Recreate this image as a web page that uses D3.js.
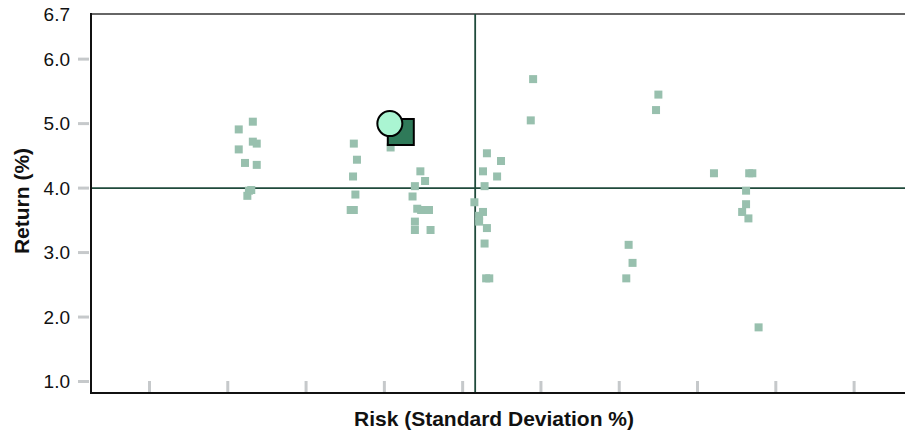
<!doctype html>
<html>
<head>
<script src="https://d3js.org/d3.v7.min.js"></script>
<style>
  body { margin: 0; background: #fff; }
  svg { display: block; font-family: "Liberation Sans", Arial, sans-serif; }
</style>
</head>
<body>
<svg width="905" height="434" id="chart"></svg>
<script>
// fund points (risk %, return %)
var riskValues = [
  2.14, 2.32, 2.14, 2.32, 2.37, 2.22, 2.37, 2.27, 2.25, 2.30,
  3.61, 3.65, 3.60, 3.63, 3.57, 3.61, 4.08,
  4.46, 4.52, 4.39, 4.36, 4.42, 4.47, 4.57, 4.39, 4.39, 4.59,
  5.31, 5.49, 5.26, 5.44, 5.28, 5.15, 5.26, 5.21, 5.21, 5.31, 5.28, 5.30, 5.34,
  5.90, 5.87,
  7.50, 7.47, 7.12, 7.17, 7.09,
  8.21, 8.66, 8.70, 8.62, 8.62, 8.57, 8.65, 8.78
];
var returnValues = [
  4.91, 5.03, 4.60, 4.72, 4.69, 4.39, 4.36, 3.96, 3.88, 3.97,
  4.69, 4.44, 4.18, 3.90, 3.66, 3.66, 4.63,
  4.26, 4.11, 4.03, 3.87, 3.68, 3.66, 3.66, 3.48, 3.35, 3.35,
  4.54, 4.42, 4.26, 4.18, 4.03, 3.78, 3.63, 3.57, 3.48, 3.38, 3.14, 2.60, 2.60,
  5.69, 5.05,
  5.45, 5.21, 3.12, 2.84, 2.60,
  4.23, 4.23, 4.23, 3.96, 3.75, 3.63, 3.53, 1.84
];
// highlighted portfolio and benchmark
var portfolio = { risk: 4.21, ret: 4.87 };
var benchmark = { risk: 4.07, ret: 5.00 };
// reference lines
var avgRisk = 5.16, avgReturn = 4.0;
var yTicks = [1, 2, 3, 4, 5, 6];
var yTop = 6.7;
var xTicks = [1, 2, 3, 4, 5, 6, 7, 8, 9, 10];

var svg = d3.select("#chart");
var pLeft = 91, pTop = 14, pRight = 905, pBottom = 393;

var x = d3.scaleLinear().domain([0.253, 10.65]).range([pLeft, pRight]);
var y = d3.scaleLinear().domain([0.822, yTop]).range([pBottom, pTop]);

// top frame line
svg.append("line")
  .attr("x1", pLeft).attr("x2", pRight)
  .attr("y1", pTop).attr("y2", pTop)
  .attr("stroke", "#333").attr("stroke-width", 1.5);

// y ticks
svg.selectAll(".ytick").data(yTicks).enter().append("line")
  .attr("x1", 78).attr("x2", 89)
  .attr("y1", function (d) { return y(d); })
  .attr("y2", function (d) { return y(d); })
  .attr("stroke", "#c6c9cb").attr("stroke-width", 3);

svg.selectAll(".ylab").data(yTicks.concat([yTop])).enter().append("text")
  .attr("x", 70)
  .attr("y", function (d) { return y(d); })
  .attr("dy", "0.36em")
  .attr("text-anchor", "end")
  .style("font-size", "19px")
  .style("fill", "#111")
  .text(function (d) { return d.toFixed(1); });

// x ticks
svg.selectAll(".xtick").data(xTicks).enter().append("line")
  .attr("x1", function (d) { return x(d); })
  .attr("x2", function (d) { return x(d); })
  .attr("y1", 381).attr("y2", 392)
  .attr("stroke", "#c6c9cb").attr("stroke-width", 3);

// reference lines
svg.append("line")
  .attr("x1", pLeft).attr("x2", pRight)
  .attr("y1", y(avgReturn)).attr("y2", y(avgReturn))
  .attr("stroke", "#1f4a3b").attr("stroke-width", 1.8);
svg.append("line")
  .attr("x1", x(avgRisk)).attr("x2", x(avgRisk))
  .attr("y1", pTop).attr("y2", pBottom)
  .attr("stroke", "#1f4a3b").attr("stroke-width", 1.8);

// axes lines
svg.append("line")
  .attr("x1", pLeft).attr("x2", pLeft)
  .attr("y1", pTop - 1).attr("y2", pBottom + 1)
  .attr("stroke", "#111").attr("stroke-width", 2);
svg.append("line")
  .attr("x1", pLeft).attr("x2", pRight)
  .attr("y1", pBottom).attr("y2", pBottom)
  .attr("stroke", "#111").attr("stroke-width", 2);

// points
var pts = riskValues.map(function (r, i) { return { risk: r, ret: returnValues[i] }; });
var s = 8;
svg.append("g").selectAll("rect").data(pts).enter().append("rect")
  .attr("x", function (d) { return x(d.risk) - s / 2; })
  .attr("y", function (d) { return y(d.ret) - s / 2; })
  .attr("width", s).attr("height", s)
  .attr("fill", "#98c0ae");

// portfolio square
var S = 26;
svg.append("rect")
  .attr("x", x(portfolio.risk) - S / 2)
  .attr("y", y(portfolio.ret) - S / 2)
  .attr("width", S).attr("height", S)
  .attr("fill", "#2f7a59")
  .attr("stroke", "#000").attr("stroke-width", 2);

// benchmark circle
svg.append("circle")
  .attr("cx", x(benchmark.risk))
  .attr("cy", y(benchmark.ret))
  .attr("r", 12.5)
  .attr("fill", "#aaf5d2")
  .attr("stroke", "#000").attr("stroke-width", 2);

// axis titles
svg.append("text")
  .attr("x", 494).attr("y", 426)
  .attr("text-anchor", "middle")
  .style("font-size", "21px").style("font-weight", "bold")
  .style("fill", "#111")
  .text("Risk (Standard Deviation %)");

svg.append("text")
  .attr("transform", "translate(29,201)rotate(-90)")
  .attr("text-anchor", "middle")
  .style("font-size", "21px").style("font-weight", "bold")
  .style("fill", "#111")
  .text("Return (%)");
</script>
</body>
</html>
